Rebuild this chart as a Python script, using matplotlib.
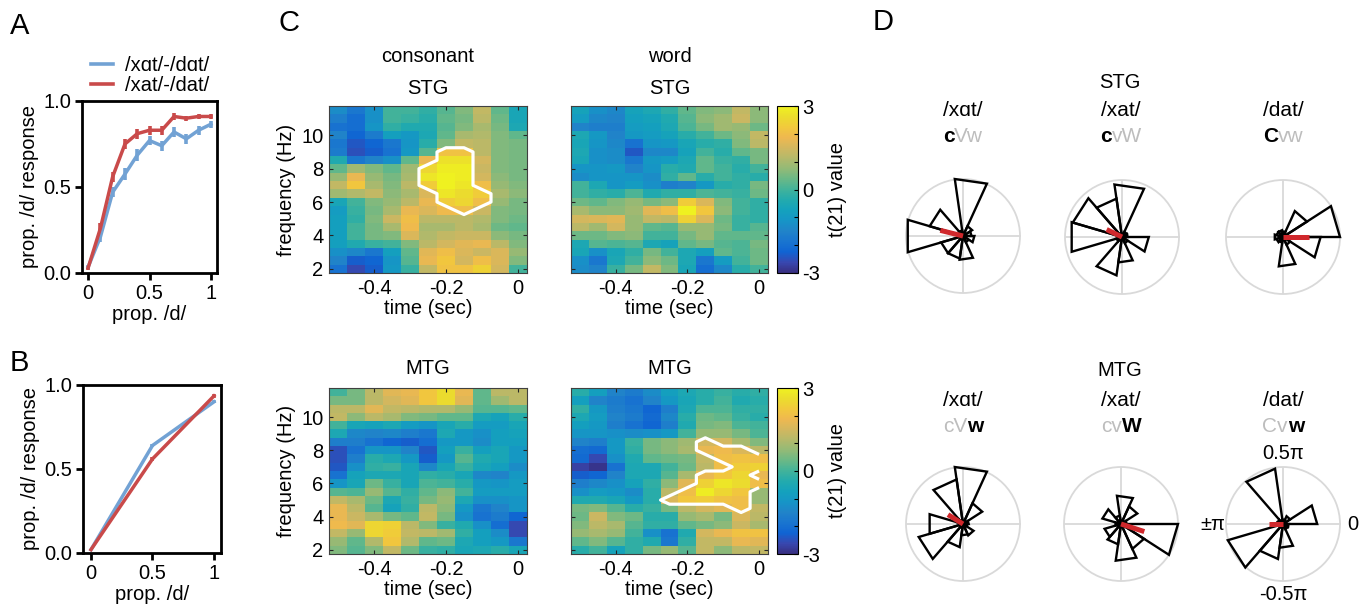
import numpy as np
import matplotlib
matplotlib.use("Agg")
import matplotlib.pyplot as plt
from matplotlib.colors import LinearSegmentedColormap
from matplotlib.offsetbox import TextArea, HPacker, AnnotationBbox
from matplotlib.lines import Line2D

plt.rcParams['font.family'] = ['Liberation Sans', 'DejaVu Sans']
plt.rcParams['font.size'] = 14.5

# ---------------- data ----------------
# Panel A
prop_d_a = [0.0, 0.1, 0.2, 0.3, 0.4, 0.5, 0.6, 0.7, 0.8, 0.9, 1.0]
a_blue = [0.035, 0.21, 0.47, 0.575, 0.685, 0.77, 0.74, 0.82, 0.78, 0.83, 0.865]
a_blue_err = [0.01, 0.03, 0.03, 0.035, 0.035, 0.025, 0.03, 0.03, 0.03, 0.025, 0.02]
a_red = [0.03, 0.26, 0.56, 0.75, 0.81, 0.83, 0.83, 0.91, 0.90, 0.91, 0.91]
a_red_err = [0.01, 0.03, 0.03, 0.03, 0.03, 0.025, 0.025, 0.02, 0.015, 0.012, 0.015]
legend_labels = ['/xɑt/-/dɑt/', '/xat/-/dat/']

# Panel B
prop_d_b = [0.0, 0.5, 1.0]
b_blue = [0.02, 0.64, 0.90]
b_blue_err = [0.005, 0.01, 0.01]
b_red = [0.02, 0.56, 0.935]
b_red_err = [0.005, 0.01, 0.01]

# Panel C: time-frequency t-maps (rows: 11.5 Hz -> 2 Hz, cols: -0.5 s -> 0 s)
times = [-0.5, -0.45, -0.4, -0.35, -0.3, -0.25, -0.2, -0.15, -0.1, -0.05, 0.0]
freqs = [11.5, 11.0, 10.5, 10.0, 9.5, 9.0, 8.5, 8.0, 7.5, 7.0,
         6.5, 6.0, 5.5, 5.0, 4.5, 4.0, 3.5, 3.0, 2.5, 2.0]

stg_consonant = [
    [-1.3, -1.8, -1.2, 0.0, 0.0, -0.2, 0.2, 0.6, 1.3, 0.3, -0.6],
    [-1.6, -2.0, -1.2, 0.0, -0.1, -0.3, 0.3, 0.5, 1.2, 0.4, -0.6],
    [-1.9, -2.0, -1.1, -0.2, -0.4, -0.4, 0.2, 0.6, 1.0, 0.5, -0.5],
    [-1.5, -2.2, -1.7, -0.8, -1.0, -0.5, 0.3, 1.0, 1.1, 0.6, 0.3],
    [-1.8, -2.4, -2.2, -1.8, -1.1, -0.3, 0.6, 1.3, 1.2, 0.6, 0.5],
    [-1.7, -2.5, -2.3, -1.9, -1.0, 0.2, 2.1, 2.1, 1.2, 0.6, 0.5],
    [-0.4, -1.8, -1.5, -1.2, 0.3, 1.8, 2.7, 2.7, 1.5, 0.6, 0.5],
    [0.3, 0.9, 0.6, 0.3, 0.9, 2.5, 2.9, 2.9, 1.4, 0.6, 0.5],
    [0.8, 1.8, 0.8, 0.5, 1.0, 2.8, 3.0, 2.9, 1.5, 0.7, 0.5],
    [1.3, 2.2, 1.0, 0.6, 1.2, 2.3, 3.0, 2.8, 2.0, 0.8, 0.6],
    [0.9, 1.1, 1.3, 0.7, 1.0, 1.6, 2.8, 2.6, 2.3, 1.0, 0.7],
    [-0.6, 0.0, 0.6, 0.8, 1.2, 1.8, 2.3, 2.5, 2.0, 0.8, 0.5],
    [-0.9, -0.1, 0.5, 1.0, 1.8, 1.6, 1.9, 2.0, 1.4, 0.6, 0.5],
    [-0.8, -0.2, 0.6, 1.4, 2.0, 1.2, 1.2, 1.2, 1.1, 0.6, 0.4],
    [-0.8, 0.0, 0.5, 1.0, 1.9, 1.0, 1.0, 1.2, 1.0, 0.4, 0.3],
    [-0.8, 0.0, 0.5, 0.6, 1.6, 1.1, 1.3, 1.4, 1.4, 0.7, 0.5],
    [-0.8, -0.4, -0.1, 0.0, 0.6, 1.2, 1.5, 1.7, 1.8, 1.2, 0.6],
    [-1.2, -1.4, -1.8, -0.8, 0.3, 1.7, 2.0, 1.6, 1.4, 1.6, 0.8],
    [-1.5, -2.3, -2.2, -1.1, 0.2, 1.8, 2.2, 1.5, 2.0, 1.6, 0.6],
    [-1.9, -2.6, -2.3, -1.0, -0.1, 1.3, 2.1, 2.1, 2.4, 1.5, 0.0],
]

stg_word = [
    [-0.7, -1.2, -1.4, -0.7, -0.5, -0.2, 0.3, 0.6, 0.7, 1.3, 0.7],
    [-0.9, -1.4, -1.5, -0.8, -0.7, -0.4, 0.2, 0.7, 0.9, 1.4, 0.7],
    [-1.5, -1.6, -1.6, -0.9, -0.8, -0.5, 0.1, 0.5, 0.9, 0.8, 0.4],
    [-0.5, -1.0, -1.5, -1.0, -0.9, -0.7, -0.3, 0.0, 0.4, 0.7, 1.3],
    [-0.6, -1.1, -1.4, -1.9, -1.1, -1.0, -0.6, -0.3, -0.2, 0.6, 1.2],
    [-0.5, -1.2, -1.3, -2.4, -1.4, -1.4, -0.7, 0.0, -0.3, 0.3, 0.5],
    [-0.6, -1.2, -1.3, -1.8, -1.0, -0.9, -0.5, 0.3, -0.1, -0.2, 0.5],
    [-1.1, -1.1, -1.0, -1.5, -1.1, -0.3, -0.4, 0.3, 0.0, -0.3, 0.0],
    [-1.3, -1.1, -1.1, -1.1, -1.3, -0.2, 0.3, -0.3, 0.0, -0.2, -0.3],
    [0.0, -0.5, -1.1, -0.9, -1.2, -1.6, -1.5, -1.0, -0.3, -0.2, 0.5],
    [0.0, -0.2, -0.3, 0.1, -0.4, -0.2, -0.2, 0.1, 0.0, -0.1, 0.4],
    [0.4, 0.3, 0.6, 0.8, 0.5, 0.7, 2.3, 1.6, 0.6, 0.0, -0.2],
    [1.0, 0.7, 0.7, 0.9, 1.7, 2.0, 3.0, 2.2, 0.7, 0.0, -0.2],
    [1.5, 1.6, 1.7, 0.8, 1.3, 1.2, 2.4, 1.6, 0.4, -0.1, -0.2],
    [1.2, 0.9, 1.5, 0.8, 0.3, 0.2, 0.8, 0.8, 0.5, -0.1, 0.2],
    [0.4, 0.4, 0.6, 0.7, 0.0, 0.0, 0.5, 0.8, 0.3, 0.3, 0.3],
    [-0.5, 0.2, 0.1, 0.2, -0.5, -0.7, 0.3, 0.5, 0.2, 0.1, 0.5],
    [-0.6, -1.2, -0.6, -0.2, 0.5, 0.0, -0.5, -0.8, 0.3, 0.1, 0.4],
    [-1.2, -1.8, -0.5, 0.0, 0.7, 0.4, -0.5, -1.8, -0.9, 0.0, 0.4],
    [-1.3, -1.5, -0.1, 0.5, 1.3, 0.6, -0.6, -2.0, -1.4, -0.3, 0.0],
]

mtg_consonant = [
    [0.0, 0.5, 1.2, 1.7, 1.8, 2.2, 2.6, 1.8, 0.3, 1.2, 1.2],
    [0.5, 0.5, 1.2, 1.5, 1.7, 2.2, 2.6, 1.7, 0.3, 0.9, 1.2],
    [1.2, 1.2, 1.7, 1.3, 1.2, 1.1, 1.1, 0.8, 0.2, 0.2, 0.3],
    [1.3, 0.7, 1.2, 1.0, 0.6, 0.5, 0.3, 0.3, -0.5, -0.7, -0.3],
    [0.0, -0.6, -0.7, -0.5, -0.9, -1.1, -0.6, -0.3, -0.9, -0.9, -0.6],
    [-0.5, -1.4, -1.5, -1.4, -1.6, -1.8, -0.5, -1.0, -1.2, -0.8, -0.7],
    [-1.6, -1.6, -1.9, -2.2, -2.3, -2.0, -1.0, -1.0, -1.3, -0.8, -0.8],
    [-2.5, -1.9, -1.1, -1.1, -1.5, -2.4, -0.8, -0.1, -0.8, -0.6, -1.0],
    [-2.5, -1.6, -0.3, -0.5, -1.0, -2.3, -1.0, 0.2, -0.4, -0.6, -1.0],
    [-2.4, -1.2, -0.2, -0.1, -0.6, -1.4, -0.6, -0.1, -0.6, -0.8, -1.3],
    [-1.9, -0.7, -0.5, -0.5, -0.6, -0.2, -0.3, -0.6, -1.4, -1.5, -1.0],
    [-1.1, -0.6, 0.4, -0.1, -0.6, 0.1, 0.0, -0.3, -1.0, -1.1, -0.9],
    [0.2, 0.1, 0.8, 0.2, -0.2, 0.3, 0.7, 0.0, -0.9, -0.9, -0.9],
    [1.3, 1.0, 0.4, -0.5, -0.1, 0.5, 0.8, -0.5, -1.2, -1.2, -1.1],
    [1.8, 1.2, 0.2, -0.7, -0.2, 1.2, 0.7, -1.0, -1.8, -1.5, -1.1],
    [1.8, 1.4, 1.0, 0.5, 0.3, 1.3, 0.5, -1.2, -1.9, -1.7, -2.2],
    [1.9, 1.7, 2.5, 2.4, 1.2, 0.6, -0.1, -0.4, -1.2, -2.0, -2.6],
    [1.3, 0.8, 2.5, 2.3, 1.3, 1.2, 0.9, -0.2, -0.8, -1.3, -2.6],
    [0.8, 0.3, 1.1, 2.2, 1.1, 0.3, 0.4, -0.5, -0.8, -1.0, -1.8],
    [0.6, 0.2, 0.6, 1.3, 0.4, -0.1, -0.2, -0.6, -0.5, -0.3, -0.6],
]

mtg_word = [
    [-0.3, -0.8, -1.5, -1.7, -1.3, -0.8, -0.5, -0.3, -0.1, -0.3, -0.2],
    [-0.8, -1.5, -1.7, -1.9, -1.5, -1.0, -0.6, -0.3, 0.0, -0.4, -0.3],
    [-0.2, -1.0, -1.6, -1.8, -2.2, -1.6, -0.5, 0.1, 0.1, -0.2, -0.2],
    [-0.5, -0.9, -1.5, -1.7, -2.1, -1.4, -0.3, 0.4, 0.3, -0.1, -0.3],
    [-0.8, -1.0, -1.6, -1.9, -2.2, -1.6, -0.4, 0.5, 0.6, 0.1, 0.0],
    [-1.1, -1.1, -1.2, -1.3, -1.2, -1.0, 0.0, 0.8, 0.8, 0.5, 0.1],
    [-1.5, -1.6, -1.0, -0.1, 0.5, 0.7, 0.9, 1.5, 1.5, 1.0, 0.6],
    [-2.0, -2.1, -1.0, -0.2, 0.5, 0.7, 1.0, 1.8, 1.9, 1.6, 1.2],
    [-2.1, -2.6, -1.2, -0.4, 0.3, 0.4, 0.5, 1.3, 2.0, 2.1, 2.0],
    [-2.7, -2.9, -1.9, -0.5, -0.5, 0.0, 0.4, 1.2, 2.0, 2.3, 2.4],
    [-2.3, -2.2, -1.5, -0.5, -0.5, 0.2, 1.0, 1.8, 2.2, 2.5, 1.8],
    [-1.6, -1.4, -1.2, -0.7, -0.2, 0.7, 1.7, 2.4, 2.8, 2.6, 2.0],
    [-1.2, -0.9, -1.0, -1.3, -0.3, 1.2, 2.0, 2.9, 2.5, 2.2, 0.8],
    [-0.4, -0.4, -0.6, -1.0, -0.3, 1.6, 2.2, 2.3, 2.1, 2.0, 0.8],
    [0.5, 0.6, 0.2, -0.3, -0.1, 0.5, 1.2, 1.5, 1.7, 2.0, 1.3],
    [0.4, 1.4, 0.6, 0.4, -0.3, -0.3, 0.8, 1.0, 0.5, 1.6, 1.2],
    [0.6, 1.2, 1.0, 0.2, -0.2, -0.2, 0.3, 0.5, 0.7, 1.4, 1.0],
    [0.8, 1.0, 0.8, 0.0, -1.2, -1.9, -0.4, 1.5, 1.8, 2.1, 2.1],
    [0.3, 0.6, 0.2, -0.2, -0.4, -1.8, -0.2, 1.3, 1.3, 1.8, 1.7],
    [-0.3, 0.0, -0.7, -0.2, 0.5, 0.8, 0.2, 1.3, 0.7, 1.2, 1.3],
]

# significant clusters (1 = inside white contour)
stg_consonant_sig = [
    [0,0,0,0,0,0,0,0,0,0,0],
    [0,0,0,0,0,0,0,0,0,0,0],
    [0,0,0,0,0,0,0,0,0,0,0],
    [0,0,0,0,0,0,0,0,0,0,0],
    [0,0,0,0,0,0,0,0,0,0,0],
    [0,0,0,0,0,0,1,1,0,0,0],
    [0,0,0,0,0,0,1,1,0,0,0],
    [0,0,0,0,0,1,1,1,0,0,0],
    [0,0,0,0,0,1,1,1,0,0,0],
    [0,0,0,0,0,1,1,1,0,0,0],
    [0,0,0,0,0,0,1,1,1,0,0],
    [0,0,0,0,0,0,1,1,1,0,0],
    [0,0,0,0,0,0,0,1,0,0,0],
    [0,0,0,0,0,0,0,0,0,0,0],
    [0,0,0,0,0,0,0,0,0,0,0],
    [0,0,0,0,0,0,0,0,0,0,0],
    [0,0,0,0,0,0,0,0,0,0,0],
    [0,0,0,0,0,0,0,0,0,0,0],
    [0,0,0,0,0,0,0,0,0,0,0],
    [0,0,0,0,0,0,0,0,0,0,0],
]

mtg_word_sig = [
    [0,0,0,0,0,0,0,0,0,0,0],
    [0,0,0,0,0,0,0,0,0,0,0],
    [0,0,0,0,0,0,0,0,0,0,0],
    [0,0,0,0,0,0,0,0,0,0,0],
    [0,0,0,0,0,0,0,0,0,0,0],
    [0,0,0,0,0,0,0,0,0,0,0],
    [0,0,0,0,0,0,0,1,0,0,0],
    [0,0,0,0,0,0,0,1,1,1,0],
    [0,0,0,0,0,0,0,0,1,1,1],
    [0,0,0,0,0,0,0,0,0,1,1],
    [0,0,0,0,0,0,0,1,1,1,0],
    [0,0,0,0,0,0,0,1,1,1,1],
    [0,0,0,0,0,0,1,1,1,1,0],
    [0,0,0,0,0,1,1,1,1,1,0],
    [0,0,0,0,0,0,0,0,0,1,0],
    [0,0,0,0,0,0,0,0,0,0,0],
    [0,0,0,0,0,0,0,0,0,0,0],
    [0,0,0,0,0,0,0,0,0,0,0],
    [0,0,0,0,0,0,0,0,0,0,0],
    [0,0,0,0,0,0,0,0,0,0,0],
]

# Panel D: phase histograms (11 bins from 0 to 2pi), normalised radius
stg_xat_back = [0.15, 0.19, 1.01, 0.1, 0.61, 1.01, 0.4, 0.4, 0.42, 0.12, 0.2]
stg_xat_front = [0.1, 0.1, 0.93, 0.68, 0.9, 0.92, 0.1, 0.68, 0.45, 0.12, 0.47]
stg_dat = [1.0, 0.5, 0.1, 0.12, 0.12, 0.15, 0.12, 0.1, 0.52, 0.15, 0.66]
mtg_xat_back = [0.1, 0.4, 1.01, 0.79, 0.1, 0.61, 0.81, 0.41, 0.2, 0.22, 0.08]
mtg_xat_front = [0.1, 0.34, 0.5, 0.15, 0.34, 0.1, 0.3, 0.36, 0.65, 0.48, 1.0]
mtg_dat = [0.6, 0.15, 0.08, 0.98, 0.1, 0.1, 1.01, 0.62, 0.42, 0.1, 0.1]
# mean vectors: angle (deg), length
mean_angles = [166, 154, 0, 148, 342, 180]
mean_lengths = [0.41, 0.30, 0.46, 0.31, 0.43, 0.25]
rose_words = ['/xɑt/', '/xat/', '/dat/']
stg_code = [('c', 'Vw'), ('c', 'vW'), ('C', 'vw')]
mtg_code = [('cV', 'w'), ('cv', 'W'), ('Cv', 'w')]
theta_labels = ['0', '0.5π', '±π', '-0.5π']

# ---------------- style ----------------
BLUE = '#72a2d4'
RED = '#c94a4a'
GRAYTXT = '#bdbdbd'
W, H = 1368, 612

# parula colour anchors
parula_anchors = [
    (0.2081, 0.1663, 0.5292), (0.1959, 0.2645, 0.7279), (0.0117, 0.3875, 0.8820),
    (0.0498, 0.4586, 0.8641), (0.0793, 0.5200, 0.8312), (0.0343, 0.5966, 0.8199),
    (0.0228, 0.6535, 0.7768), (0.0843, 0.6928, 0.7062), (0.2178, 0.7250, 0.6193),
    (0.3953, 0.7459, 0.5244), (0.5709, 0.7485, 0.4494), (0.7184, 0.7411, 0.3905),
    (0.8507, 0.7299, 0.3360), (0.9739, 0.7314, 0.2666), (0.9880, 0.8066, 0.1794),
    (0.9589, 0.8949, 0.1132), (0.9763, 0.9831, 0.0538)]
pa = np.array(parula_anchors)
pa = 0.88 * pa + 0.12 * pa.mean(axis=1, keepdims=True)
parula = LinearSegmentedColormap.from_list('parula', pa, N=256)


def rect(x0, y0, x1, y1):
    return [x0 / W, 1 - y1 / H, (x1 - x0) / W, (y1 - y0) / H]


def fxy(x, y):
    return (x / W, 1 - y / H)


fig = plt.figure(figsize=(13.68, 6.12), dpi=100)

# ---------------- panels A and B ----------------
def behav(ax, x, yb, eb, yr, er, xlim):
    ax.errorbar(x, yb, yerr=eb, color=BLUE, lw=2.5, elinewidth=2.6, capsize=0)
    ax.errorbar(x, yr, yerr=er, color=RED, lw=2.5, elinewidth=2.6, capsize=0)
    ax.set_xlim(*xlim)
    ax.set_ylim(0, 1)
    ax.set_xticks([0, 0.5, 1])
    ax.set_xticklabels(['0', '0.5', '1'])
    ax.set_yticks([0, 0.5, 1])
    ax.set_yticklabels(['0.0', '0.5', '1.0'])
    for s in ax.spines.values():
        s.set_linewidth(2.0)
    ax.tick_params(direction='out', length=5, width=2.0, labelsize=14.5, pad=3)
    ax.set_xlabel('prop. /d/', fontsize=14.5, labelpad=1)
    ax.set_ylabel('prop. /d/ response', fontsize=14.5, labelpad=3)


axA = fig.add_axes(rect(82, 101, 217, 273))
behav(axA, prop_d_a, a_blue, a_blue_err, a_red, a_red_err, (-0.05, 1.05))
handles = [Line2D([], [], color=BLUE, lw=2.6), Line2D([], [], color=RED, lw=2.6)]
axA.legend(handles, legend_labels, loc='lower left', bbox_to_anchor=fxy(91, 95),
           bbox_transform=fig.transFigure, frameon=False, handlelength=1.1,
           handletextpad=0.6, labelspacing=0.05, borderpad=0, borderaxespad=0,
           fontsize=14.5)

axB = fig.add_axes(rect(83, 385, 221, 553))
behav(axB, prop_d_b, b_blue, b_blue_err, b_red, b_red_err, (-0.065, 1.057))

# ---------------- panel C ----------------
extent = (times[0] - 0.025, times[-1] + 0.025, freqs[-1] - 0.25, freqs[0] + 0.25)


def tfmap(box, data, ylab, sig=None, cbox=None):
    ax = fig.add_axes(rect(*box))
    im = ax.imshow(np.array(data), cmap=parula, vmin=-3, vmax=3, extent=extent,
                   origin='upper', aspect='auto', interpolation='nearest')
    if sig is not None:
        ax.contour(np.array(times), np.array(freqs), np.array(sig, dtype=float),
                   levels=[0.5], colors='white', linewidths=2.3)
    ax.set_xlim(extent[0], extent[1])
    ax.set_ylim(extent[2], extent[3])
    ax.set_xticks([-0.4, -0.2, 0])
    ax.set_xticklabels(['-0.4', '-0.2', '0'])
    ax.set_yticks([2, 4, 6, 8, 10])
    if ylab:
        ax.set_ylabel('frequency (Hz)', fontsize=14.5, labelpad=4)
    else:
        ax.set_yticklabels([])
    ax.set_xlabel('time (sec)', fontsize=14.5, labelpad=1)
    ax.tick_params(direction='in', top=True, right=True, length=3, width=0.8,
                   color='#262626', labelsize=14.5, pad=4)
    for s in ax.spines.values():
        s.set_linewidth(0.8)
        s.set_color('#404040')
    if cbox is not None:
        cax = fig.add_axes(rect(*cbox))
        cb = fig.colorbar(im, cax=cax, ticks=[-3, 0, 3])
        cb.ax.set_yticklabels(['-3', '0', '3'])
        cb.ax.set_yticks([-2, -1, 1, 2], minor=True)
        cb.ax.tick_params(which='both', direction='in', length=3, width=0.8,
                          labelsize=14.5, pad=3)
        cb.outline.set_linewidth(0.8)
        cb.set_label('t(21) value', fontsize=14.5, labelpad=6)
    return ax


tfmap((329, 106, 527, 273), stg_consonant, True, stg_consonant_sig)
tfmap((571, 106, 768, 273), stg_word, False, None, (777, 106, 798, 273))
tfmap((329, 388, 527, 554), mtg_consonant, True)
tfmap((571, 388, 768, 554), mtg_word, False, mtg_word_sig, (777, 388, 798, 554))

fig.text(*fxy(428, 57), 'consonant', ha='center', va='center', fontsize=14.5)
fig.text(*fxy(428, 88), 'STG', ha='center', va='center', fontsize=14.5)
fig.text(*fxy(670, 57), 'word', ha='center', va='center', fontsize=14.5)
fig.text(*fxy(670, 88), 'STG', ha='center', va='center', fontsize=14.5)
fig.text(*fxy(428, 369), 'MTG', ha='center', va='center', fontsize=14.5)
fig.text(*fxy(670, 369), 'MTG', ha='center', va='center', fontsize=14.5)

# ---------------- panel D ----------------
nbins = 11
edges = np.linspace(0, 2 * np.pi, nbins + 1)
R = 57
rose_sets = [stg_xat_back, stg_xat_front, stg_dat, mtg_xat_back, mtg_xat_front, mtg_dat]
centers = [(963, 236), (1122, 237), (1283, 237), (963, 524), (1121, 524), (1283, 524)]

for i, (counts, (cx, cy)) in enumerate(zip(rose_sets, centers)):
    ax = fig.add_axes(rect(cx - R, cy - R, cx + R, cy + R), projection='polar')
    for k, r in enumerate(counts):
        ax.plot([0, edges[k], edges[k + 1], 0], [0, r, r, 0], color='black',
                lw=1.7, clip_on=False, solid_joinstyle='miter', zorder=3)
    ang = np.deg2rad(mean_angles[i])
    ax.plot([ang, ang], [0, mean_lengths[i]], color='#d0282c', lw=3.6,
            solid_capstyle='butt', zorder=4)
    ax.set_ylim(0, 1)
    ax.set_yticks([])
    ax.set_xticks(np.deg2rad([0, 90, 180, 270]))
    if i == 5:
        ax.set_xticklabels(theta_labels, fontsize=14.5)
        ax.tick_params(axis='x', pad=-1)
    else:
        ax.set_xticklabels([])
    ax.grid(True, color='#d9d9d9', lw=1.3)
    ax.spines['polar'].set_color('#d9d9d9')
    ax.spines['polar'].set_linewidth(1.3)
    ax.set_facecolor('none')

fig.text(*fxy(1120, 82), 'STG', ha='center', va='center', fontsize=14.5)
fig.text(*fxy(1120, 370), 'MTG', ha='center', va='center', fontsize=14.5)


def code_label(x, y, parts):
    children = []
    for txt, bold in parts:
        tp = dict(color='black' if bold else GRAYTXT, fontsize=15,
                  fontweight='bold' if bold else 'normal')
        children.append(TextArea(txt, textprops=tp))
    pack = HPacker(children=children, pad=0, sep=0, align='baseline')
    ab = AnnotationBbox(pack, fxy(x, y), xycoords='figure fraction',
                        box_alignment=(0.5, 0.5), frameon=False, pad=0)
    fig.add_artist(ab)


xs = [963, 1121, 1283]
for j in range(3):
    fig.text(*fxy(xs[j], 111), rose_words[j], ha='center', va='center', fontsize=15)
    code_label(xs[j], 136, [(stg_code[j][0], True), (stg_code[j][1], False)])
    fig.text(*fxy(xs[j], 400), rose_words[j], ha='center', va='center', fontsize=15)
    code_label(xs[j], 426, [(mtg_code[j][0], False), (mtg_code[j][1], True)])

# panel letters
for lab, (x, y) in zip('ABCD', [(10, 26), (10, 363), (278, 23), (873, 22)]):
    fig.text(*fxy(x, y), lab, ha='left', va='center', fontsize=21)

fig.savefig('out.png', dpi=100)
